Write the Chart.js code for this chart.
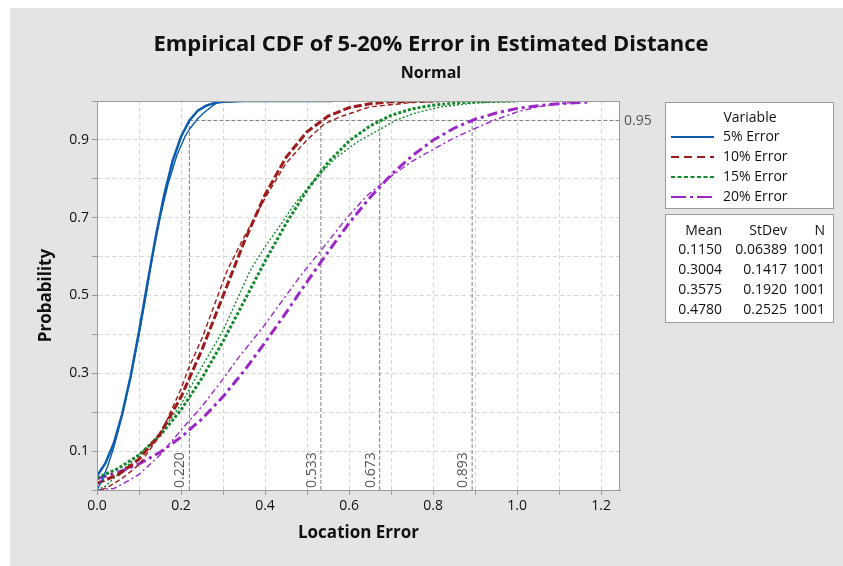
<!DOCTYPE html>
<html>
<head>
<meta charset="utf-8">
<script src="https://cdn.jsdelivr.net/npm/chart.js@4.4.1/dist/chart.umd.min.js"></script>
<style>
  html, body { margin: 0; padding: 0; background: #fff; }
</style>
</head>
<body>
<canvas id="cdfChart" width="843" height="566"></canvas>
<script>
// series names and summary stats (legend + table)
const seriesNames = ['5% Error', '10% Error', '15% Error', '20% Error']
const means = ['0.1150', '0.3004', '0.3575', '0.4780']
const stdevs = ['0.06389', '0.1417', '0.1920', '0.2525']
const counts = ['1001', '1001', '1001', '1001']

// empirical cdf (thin lines)
const emp5X = [0.000, 0.010, 0.025, 0.040, 0.050, 0.065, 0.080, 0.100, 0.115, 0.130, 0.150, 0.170, 0.190, 0.210, 0.222, 0.240, 0.260, 0.287, 0.350]
const emp5P = [0.000, 0.020, 0.060, 0.110, 0.150, 0.220, 0.290, 0.400, 0.490, 0.590, 0.700, 0.790, 0.860, 0.910, 0.930, 0.955, 0.975, 0.997, 1.000]
const emp10X = [0.010, 0.030, 0.060, 0.100, 0.150, 0.200, 0.217, 0.250, 0.310, 0.350, 0.400, 0.450, 0.500, 0.540, 0.580, 0.650, 0.750, 0.850]
const emp10P = [0.000, 0.010, 0.030, 0.065, 0.140, 0.260, 0.310, 0.390, 0.565, 0.650, 0.750, 0.840, 0.900, 0.940, 0.960, 0.985, 0.996, 1.000]
const emp15X = [0.000, 0.020, 0.050, 0.100, 0.150, 0.200, 0.246, 0.300, 0.365, 0.400, 0.436, 0.470, 0.524, 0.570, 0.620, 0.675, 0.710, 0.760, 0.820, 0.900, 1.000]
const emp15P = [0.000, 0.010, 0.040, 0.090, 0.145, 0.220, 0.310, 0.410, 0.565, 0.625, 0.680, 0.735, 0.805, 0.855, 0.895, 0.928, 0.950, 0.970, 0.985, 0.995, 1.000]
const emp20X = [0.000, 0.040, 0.060, 0.100, 0.150, 0.205, 0.250, 0.300, 0.333, 0.396, 0.440, 0.484, 0.540, 0.595, 0.643, 0.698, 0.750, 0.801, 0.850, 0.897, 0.944, 1.000, 1.050, 1.100, 1.167]
const emp20P = [0.000, 0.004, 0.015, 0.040, 0.090, 0.160, 0.215, 0.285, 0.335, 0.420, 0.485, 0.550, 0.625, 0.700, 0.757, 0.805, 0.845, 0.876, 0.905, 0.928, 0.950, 0.972, 0.985, 0.993, 1.000]

// fitted normal cdf (thick lines)
const fit5X = [0.00, 0.02, 0.04, 0.06, 0.08, 0.10, 0.12, 0.14, 0.16, 0.18, 0.20, 0.22, 0.24, 0.26, 0.28, 0.30, 0.35, 0.56]
const fit5P = [0.036, 0.069, 0.120, 0.195, 0.292, 0.407, 0.531, 0.652, 0.759, 0.846, 0.908, 0.950, 0.975, 0.988, 0.995, 0.998, 1.000, 1.000]
const fit10X = [0.00, 0.05, 0.10, 0.15, 0.20, 0.25, 0.30, 0.35, 0.40, 0.45, 0.50, 0.55, 0.60, 0.65, 0.70, 0.80]
const fit10P = [0.017, 0.039, 0.079, 0.144, 0.239, 0.361, 0.499, 0.637, 0.759, 0.855, 0.921, 0.961, 0.983, 0.993, 0.998, 1.000]
const fit15X = [0.00, 0.05, 0.10, 0.15, 0.20, 0.25, 0.30, 0.35, 0.40, 0.45, 0.50, 0.55, 0.60, 0.65, 0.70, 0.75, 0.80, 0.85, 0.90, 1.00]
const fit15P = [0.031, 0.055, 0.090, 0.140, 0.206, 0.288, 0.382, 0.485, 0.588, 0.685, 0.771, 0.842, 0.897, 0.936, 0.963, 0.980, 0.989, 0.995, 0.998, 1.000]
const fit20X = [0.00, 0.05, 0.10, 0.15, 0.20, 0.25, 0.30, 0.35, 0.40, 0.45, 0.50, 0.55, 0.60, 0.65, 0.70, 0.75, 0.80, 0.85, 0.90, 0.95, 1.00, 1.05, 1.10, 1.167]
const fit20P = [0.029, 0.045, 0.067, 0.097, 0.136, 0.183, 0.240, 0.306, 0.379, 0.456, 0.535, 0.612, 0.686, 0.752, 0.810, 0.859, 0.899, 0.930, 0.953, 0.969, 0.981, 0.988, 0.993, 0.997]

// 95th percentile reference lines
const refP = 0.95
const refX = [0.220, 0.533, 0.673, 0.893]

// axis ticks
const xGrid = [0, 0.1, 0.2, 0.3, 0.4, 0.5, 0.6, 0.7, 0.8, 0.9, 1.0, 1.1, 1.2]
const yGrid = [0, 0.1, 0.2, 0.3, 0.4, 0.5, 0.6, 0.7, 0.8, 0.9, 1.0]
const xTickLabels = ['0.0', '0.2', '0.4', '0.6', '0.8', '1.0', '1.2']
const yTickLabels = ['0.1', '0.3', '0.5', '0.7', '0.9']
const xMax = 1.245

const colors = ['#0b5cad', '#9e1b1b', '#138a2c', '#9b27c9']
const thinDash = [[], [5, 3], [2, 2], [6, 3, 2, 3]]
const thickDash = [[], [8, 3], [3, 2], [10, 4, 3, 4]]
const legendDash = [[], [8, 5], [4, 2.5], [15, 4, 3, 4]]

const FONT = '"Open Sans", "Noto Sans", sans-serif'

const pts = (xs, ps) => xs.map((x, i) => ({ x: x, y: ps[i] }))
const emp = [pts(emp5X, emp5P), pts(emp10X, emp10P), pts(emp15X, emp15P), pts(emp20X, emp20P)]
const fit = [pts(fit5X, fit5P), pts(fit10X, fit10P), pts(fit15X, fit15P), pts(fit20X, fit20P)]

const datasets = []
seriesNames.forEach((name, i) => {
    datasets.push({
        label: name + ' fit', data: fit[i], borderColor: colors[i], borderWidth: i === 0 ? 2.5 : 3,
        borderDash: thickDash[i], pointRadius: 0, tension: 0, fill: false
    })
    datasets.push({
        label: name, data: emp[i], borderColor: colors[i], borderWidth: 1.4,
        borderDash: thinDash[i], pointRadius: 0, tension: 0, fill: false
    })
})
// reference lines go last so they sit behind the curves
datasets.push({
    label: 'ref95', data: [{ x: refX[0], y: refP }, { x: xMax, y: refP }],
    borderColor: '#7f7f7f', borderWidth: 1, borderDash: [4, 2], pointRadius: 0
})
refX.forEach(q => {
    datasets.push({
        label: 'ref' + q, data: [{ x: q, y: 0 }, { x: q, y: refP }],
        borderColor: '#7f7f7f', borderWidth: 1, borderDash: [4, 2], pointRadius: 0
    })
})

const backdrop = {
    id: 'backdrop',
    beforeDraw(chart) {
        const { ctx, chartArea: a } = chart
        ctx.save()
        ctx.fillStyle = '#ffffff'
        ctx.fillRect(0, 0, chart.width, chart.height)
        ctx.fillStyle = '#e4e4e4'
        ctx.fillRect(10, 8, chart.width - 10, chart.height - 8)
        ctx.fillStyle = '#ffffff'
        ctx.fillRect(a.left, a.top, a.right - a.left, a.bottom - a.top)
        ctx.restore()
    }
}

const decor = {
    id: 'decor',
    afterDraw(chart) {
        const { ctx, chartArea: a, scales } = chart
        const xs = scales.x, ys = scales.y
        ctx.save()

        // plot frame
        ctx.strokeStyle = '#9a9a9a'
        ctx.lineWidth = 1
        ctx.strokeRect(a.left + 0.5, a.top + 0.5, a.right - a.left - 1, a.bottom - a.top)

        // titles
        ctx.fillStyle = '#111'
        ctx.textAlign = 'center'
        ctx.textBaseline = 'middle'
        ctx.font = 'bold 22px ' + FONT
        ctx.fillText('Empirical CDF of 5-20% Error in Estimated Distance', 431, 45)
        ctx.font = 'bold 16px ' + FONT
        ctx.fillText('Normal', 431, 73)

        // axis titles
        ctx.font = 'bold 17px ' + FONT
        ctx.fillText('Location Error', (a.left + a.right) / 2, 533)
        ctx.save()
        ctx.translate(46, (a.top + a.bottom) / 2)
        ctx.rotate(-Math.PI / 2)
        ctx.fillText('Probability', 0, 0)
        ctx.restore()

        // reference labels
        ctx.fillStyle = '#555'
        ctx.font = '14px ' + FONT
        ctx.textAlign = 'left'
        ctx.fillText(refP.toFixed(2), a.right + 4, ys.getPixelForValue(refP) + 1)
        refX.forEach(q => {
            ctx.save()
            ctx.translate(xs.getPixelForValue(q) - 9, a.bottom - 2)
            ctx.rotate(-Math.PI / 2)
            ctx.fillText(q.toFixed(3), 0, 0)
            ctx.restore()
        })

        // legend box
        const bx = 665, bw = 168
        ctx.fillStyle = '#fff'
        ctx.strokeStyle = '#9a9a9a'
        ctx.fillRect(bx, 102, bw, 106)
        ctx.strokeRect(bx + 0.5, 102.5, bw, 106)
        ctx.fillStyle = '#111'
        ctx.textAlign = 'center'
        ctx.font = '14px ' + FONT
        ctx.fillText('Variable', 750, 118)
        ctx.textAlign = 'left'
        seriesNames.forEach((name, i) => {
            const y = 137 + i * 20
            ctx.save()
            ctx.strokeStyle = colors[i]
            ctx.lineWidth = 2
            ctx.setLineDash(legendDash[i])
            ctx.beginPath()
            ctx.moveTo(671, y)
            ctx.lineTo(714, y)
            ctx.stroke()
            ctx.restore()
            ctx.fillText(name, 723, y)
        })

        // stats box
        ctx.fillStyle = '#fff'
        ctx.fillRect(bx, 214, bw, 108)
        ctx.strokeRect(bx + 0.5, 214.5, bw, 108)
        ctx.fillStyle = '#111'
        ctx.textAlign = 'right'
        ctx.font = '14px ' + FONT
        ctx.fillText('Mean', 722, 231)
        ctx.fillText('StDev', 787, 231)
        ctx.fillText('N', 825, 231)
        means.forEach((m, i) => {
            const y = 250 + i * 20
            ctx.fillText(m, 722, y)
            ctx.fillText(stdevs[i], 787, y)
            ctx.fillText(counts[i], 825, y)
        })
        ctx.restore()
    }
}

const gridStyle = { color: '#d6d6d6', lineWidth: 1, tickColor: '#9a9a9a', tickLength: 5 }
const borderStyle = { color: '#9a9a9a', dash: [4, 3] }
const tickFont = { family: FONT, size: 14 }

new Chart(document.getElementById('cdfChart'), {
    type: 'line',
    data: { datasets: datasets },
    options: {
        responsive: false,
        animation: false,
        devicePixelRatio: 1,
        layout: { padding: { top: 101, left: 0, right: 223, bottom: 0 } },
        plugins: { legend: { display: false }, tooltip: { enabled: false }, title: { display: false } },
        scales: {
            x: {
                type: 'linear', min: 0, max: xMax,
                grid: gridStyle, border: borderStyle,
                afterBuildTicks: s => { s.ticks = xGrid.map(v => ({ value: v })) },
                afterFit: s => { s.height = 76 },
                ticks: {
                    color: '#111', font: tickFont, padding: 3, maxRotation: 0, autoSkip: false,
                    callback: v => xTickLabels.includes(v.toFixed(1)) ? v.toFixed(1) : ''
                }
            },
            y: {
                type: 'linear', min: 0, max: 1,
                grid: gridStyle, border: borderStyle,
                afterBuildTicks: s => { s.ticks = yGrid.map(v => ({ value: v })) },
                afterFit: s => { s.width = 97 },
                ticks: {
                    color: '#111', font: tickFont, padding: 3, autoSkip: false,
                    callback: v => yTickLabels.includes(v.toFixed(1)) ? v.toFixed(1) : ''
                }
            }
        }
    },
    plugins: [backdrop, decor]
})
</script>
</body>
</html>
